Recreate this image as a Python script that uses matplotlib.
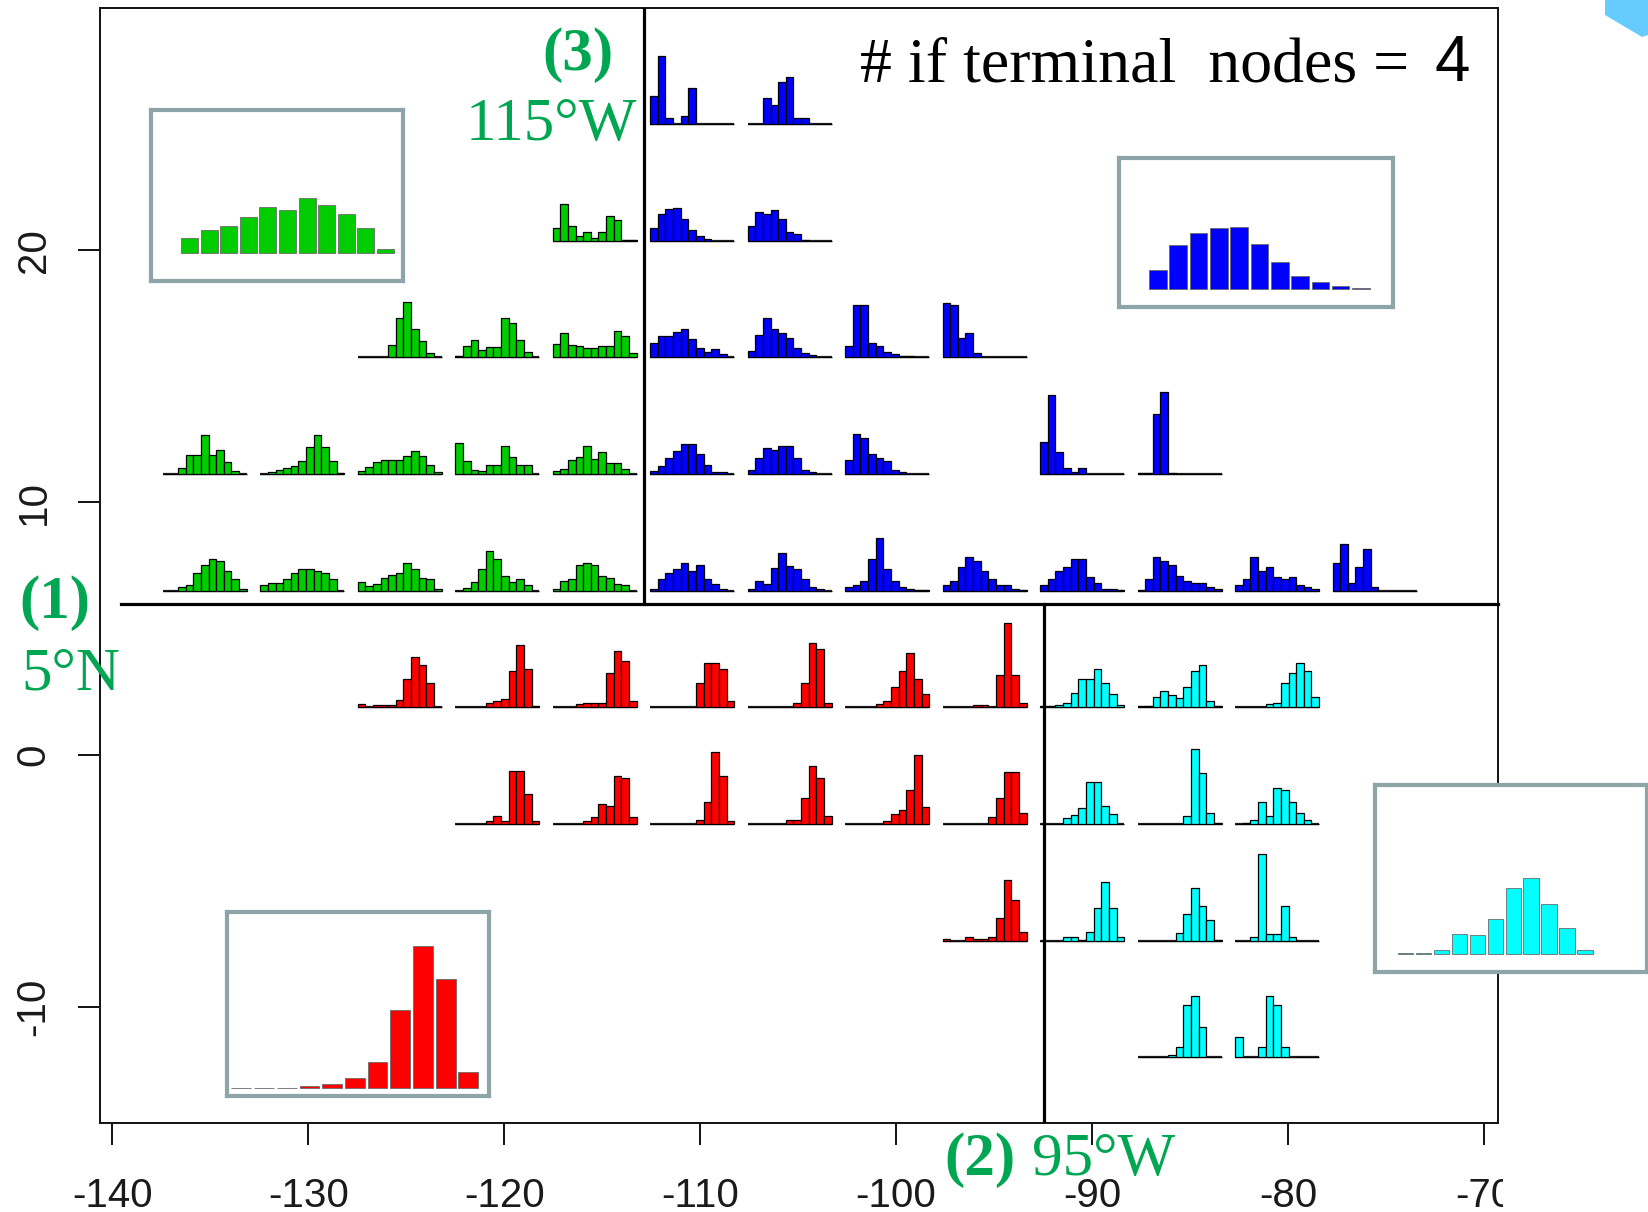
import matplotlib
matplotlib.use("Agg")
import matplotlib.pyplot as plt
from matplotlib.patches import Polygon, Rectangle

# ---------------- data ----------------
x_ticks = [-140, -130, -120, -110, -100, -90, -80, -70]
y_ticks = [-10, 0, 10, 20]

# grid of mini histograms: left edge longitude of each column, baseline latitude of each row
col_lons = [-137.43, -132.45, -127.48, -122.50, -117.53, -112.55, -107.58,
            -102.60, -97.63, -92.65, -87.68, -82.70, -77.73]
row_lats = [25.0, 20.375, 15.75, 11.125, 6.5, 1.875, -2.75, -7.375, -12.0]

# (row, col) of each mini histogram and its 11 bin heights
green_pos = [(1, 4), (2, 2), (2, 3), (2, 4),
             (3, 0), (3, 1), (3, 2), (3, 3), (3, 4),
             (4, 0), (4, 1), (4, 2), (4, 3), (4, 4)]
green_hist = [
    [13, 37, 15, 5, 9, 3, 9, 25, 21, 1, 1],
    [0, 0, 0, 0, 12, 39, 55, 28, 16, 4, 0],
    [1, 11, 17, 7, 10, 10, 39, 34, 17, 5, 0],
    [13, 24, 12, 11, 9, 9, 11, 11, 26, 21, 4],
    [0, 0, 6, 19, 19, 39, 19, 24, 12, 3, 0],
    [0, 2, 4, 6, 8, 13, 27, 39, 27, 13, 1],
    [3, 7, 12, 14, 14, 14, 18, 23, 18, 9, 2],
    [31, 13, 4, 3, 9, 9, 28, 17, 9, 9, 0],
    [3, 5, 14, 17, 28, 15, 22, 11, 11, 5, 0],
    [0, 0, 4, 6, 18, 26, 32, 30, 20, 12, 2],
    [6, 8, 8, 12, 18, 22, 22, 20, 18, 12, 0],
    [9, 5, 7, 13, 16, 18, 28, 22, 13, 12, 2],
    [0, 3, 9, 22, 40, 32, 15, 9, 12, 6, 0],
    [2, 10, 12, 26, 28, 26, 15, 13, 7, 6, 0],
]

blue_pos = [(0, 5), (0, 6), (1, 5), (1, 6),
            (2, 5), (2, 6), (2, 7), (2, 8),
            (3, 5), (3, 6), (3, 7), (3, 9), (3, 10),
            (4, 5), (4, 6), (4, 7), (4, 8), (4, 9), (4, 10), (4, 11), (4, 12)]
blue_hist = [
    [28, 68, 6, 0, 8, 36, 0, 0, 0, 0, 0],
    [0, 0, 26, 19, 42, 47, 6, 6, 0, 0, 0],
    [13, 27, 32, 33, 22, 11, 5, 2, 0, 0, 0],
    [15, 29, 27, 31, 22, 9, 7, 1, 0, 0, 0],
    [14, 21, 21, 25, 28, 18, 9, 5, 8, 3, 0],
    [6, 22, 39, 28, 24, 19, 9, 4, 2, 0, 0],
    [11, 52, 52, 14, 11, 5, 3, 1, 1, 0, 0],
    [54, 52, 19, 24, 4, 0, 0, 0, 0, 0, 0],
    [3, 8, 16, 23, 30, 30, 20, 9, 2, 2, 0],
    [4, 16, 26, 24, 28, 28, 16, 4, 2, 0, 0],
    [14, 40, 36, 20, 16, 13, 4, 2, 0, 0, 0],
    [32, 79, 22, 6, 2, 6, 0, 0, 0, 0, 0],
    [1, 1, 60, 82, 1, 0, 0, 0, 0, 0, 0],
    [2, 12, 18, 22, 28, 20, 26, 12, 7, 2, 0],
    [2, 10, 7, 23, 38, 25, 22, 12, 4, 2, 0],
    [4, 6, 10, 32, 53, 22, 10, 4, 2, 1, 1],
    [6, 10, 24, 34, 30, 20, 12, 6, 6, 2, 1],
    [6, 12, 20, 24, 32, 32, 14, 8, 2, 2, 1],
    [1, 12, 34, 30, 26, 15, 10, 8, 8, 4, 2],
    [6, 12, 34, 20, 24, 14, 12, 14, 6, 4, 2],
    [28, 47, 8, 24, 42, 4, 0, 0, 0, 0, 0],
]

red_pos = [(5, 2), (5, 3), (5, 4), (5, 5), (5, 6), (5, 7), (5, 8),
           (6, 3), (6, 4), (6, 5), (6, 6), (6, 7), (6, 8),
           (7, 8)]
red_hist = [
    [3, 0, 2, 2, 2, 7, 28, 50, 42, 24, 0],
    [0, 0, 0, 0, 4, 6, 8, 36, 62, 38, 1],
    [0, 0, 0, 3, 4, 4, 4, 34, 56, 46, 6],
    [0, 0, 0, 0, 0, 0, 24, 44, 44, 38, 6],
    [0, 0, 0, 0, 0, 0, 4, 24, 64, 58, 4],
    [0, 0, 0, 0, 3, 6, 20, 36, 54, 28, 13],
    [0, 0, 0, 0, 2, 2, 0, 32, 84, 32, 4],
    [0, 0, 0, 0, 3, 8, 3, 53, 53, 30, 3],
    [0, 0, 0, 0, 3, 7, 20, 18, 48, 46, 7],
    [0, 0, 0, 0, 0, 0, 4, 22, 72, 48, 3],
    [0, 0, 0, 0, 0, 4, 4, 26, 58, 46, 8],
    [0, 0, 0, 0, 0, 3, 10, 14, 34, 69, 17],
    [0, 0, 0, 0, 0, 0, 7, 26, 52, 52, 11],
    [2, 0, 0, 4, 2, 2, 4, 23, 61, 41, 9],
]

cyan_pos = [(5, 9), (5, 10), (5, 11),
            (6, 9), (6, 10), (6, 11),
            (7, 9), (7, 10), (7, 11),
            (8, 10), (8, 11)]
cyan_hist = [
    [1, 1, 2, 4, 14, 28, 28, 38, 24, 13, 2],
    [1, 1, 10, 16, 12, 9, 20, 36, 42, 6, 1],
    [0, 0, 0, 0, 3, 4, 24, 34, 44, 36, 10],
    [0, 0, 0, 6, 9, 16, 42, 42, 18, 10, 0],
    [0, 0, 0, 0, 0, 0, 8, 75, 51, 11, 1],
    [0, 1, 4, 22, 8, 36, 34, 22, 11, 4, 0],
    [0, 0, 0, 4, 4, 1, 9, 33, 59, 33, 4],
    [0, 0, 0, 0, 0, 8, 27, 53, 35, 21, 1],
    [0, 0, 4, 87, 7, 7, 35, 4, 0, 0, 0],
    [0, 0, 0, 0, 2, 10, 52, 61, 30, 0, 0],
    [20, 0, 0, 10, 61, 52, 10, 0, 0, 0, 0],
]

# pooled histograms shown in the inset boxes
green_inset = [15, 23, 27, 36, 46, 43, 55, 48, 39, 25, 4]
blue_inset = [19, 44, 56, 61, 62, 45, 27, 13, 7, 3, 1]
red_inset = [0, 0, 0, 2, 4, 10, 26, 78, 142, 109, 16]
cyan_inset = [1, 1, 4, 20, 19, 35, 66, 76, 50, 26, 4]

# split lines
split_lat = 5.96
split_lon_north = -112.86
split_lon_south = -92.47

# ---------------- figure ----------------
W, H = 1648, 1212
DPI = 100
fig = plt.figure(figsize=(W / DPI, H / DPI), dpi=DPI)
fig.patch.set_facecolor("white")

def fx(px):
    return px / W

def fy(py):
    return 1 - py / H

ax = fig.add_axes([fx(99.8), fy(1122.5), fx(1497.7) - fx(99.8), fy(8.4) - fy(1122.5)])
XMIN, XMAX = -140.64, -69.30
YMIN, YMAX = -14.58, 29.58
ax.set_xlim(XMIN, XMAX)
ax.set_ylim(YMIN, YMAX)

for s in ax.spines.values():
    s.set_linewidth(1.4)
    s.set_color("#111111")

ax.set_xticks(x_ticks)
ax.set_xticklabels([str(v) for v in x_ticks], fontsize=29,
                   family=["Liberation Sans", "DejaVu Sans"], color="#1a1a1a")
ax.set_yticks(y_ticks)
ax.set_yticklabels([str(v) for v in y_ticks], fontsize=29, rotation=90, va="center",
                   family=["Liberation Sans", "DejaVu Sans"], color="#1a1a1a")
ax.tick_params(axis="x", length=16, width=1.4, pad=23, color="#111111")
ax.tick_params(axis="y", length=16, width=1.4, pad=18, color="#111111")

PX_X = 1397.9 / (XMAX - XMIN)   # pixels per degree longitude
PX_Y = 1114.1 / (YMAX - YMIN)   # pixels per degree latitude
HIST_W = 84 / PX_X
BIN_W = HIST_W / 11


def mini(lon, lat, counts, color):
    xs = [lon + (i + 0.5) * BIN_W for i in range(len(counts))]
    hs = [c / PX_Y for c in counts]
    ax.plot([lon, lon + HIST_W], [lat, lat], color="#222222", lw=1.6,
            solid_capstyle="butt", zorder=2)
    ax.bar(xs, hs, width=BIN_W, bottom=lat, color=color, edgecolor="black",
           linewidth=0.9, zorder=3)


for pos, hist, col in [(green_pos, green_hist, "#00cd00"),
                       (blue_pos, blue_hist, "#0000ff"),
                       (red_pos, red_hist, "#ff0000"),
                       (cyan_pos, cyan_hist, "#00ffff")]:
    for (r, c), h in zip(pos, hist):
        mini(col_lons[c], row_lats[r], h, col)

# split lines
ax.plot([-139.57, XMAX], [split_lat, split_lat], color="black", lw=2.3, zorder=4, clip_on=False)
ax.plot([split_lon_north, split_lon_north], [split_lat, YMAX], color="black", lw=2.3, zorder=4)
ax.plot([split_lon_south, split_lon_south], [YMIN, split_lat], color="black", lw=2.3, zorder=4)

# crop edge of the original plot on the right
fig.patches.append(Rectangle((fx(1503), 0), 1 - fx(1503), 1, transform=fig.transFigure,
                             facecolor="white", edgecolor="none", zorder=1))


def inset(box, xlim, ylim, counts, color):
    l, t, r, b = box
    iax = fig.add_axes([fx(l), fy(b), fx(r) - fx(l), fy(t) - fy(b)], zorder=5)
    iax.set_facecolor("white")
    iax.set_xlim(*xlim)
    iax.set_ylim(*ylim)
    iax.bar(range(len(counts)), counts, width=0.87, color=color,
            edgecolor="#6a6a6a", linewidth=0.6)
    iax.set_xticks([])
    iax.set_yticks([])
    for s in iax.spines.values():
        s.set_color("#8ea5a7")
        s.set_linewidth(3)
    return iax


inset((151, 110, 403, 281), (-1.96, 10.89), (-28, 143), green_inset, "#00cc00")
inset((1119, 158, 1393, 307), (-1.92, 11.58), (-18, 131), blue_inset, "#0000ff")
inset((227, 912, 489, 1096), (-0.63, 10.91), (-8, 176), red_inset, "#ff0000")
inset((1375, 785, 1647, 972), (-1.70, 13.44), (-18, 169), cyan_inset, "#00ffff")

# decorative corner shape
fig.patches.append(Polygon([(fx(1605), fy(0)), (fx(1605), fy(15)), (fx(1642), fy(37)),
                            (fx(1648), fy(35)), (fx(1648), fy(0))],
                           closed=True, transform=fig.transFigure,
                           facecolor="#66ccff", edgecolor="none", zorder=6))

# annotations
GREEN = "#00a651"
SERIF = ["Liberation Serif", "DejaVu Serif"]
SANS = ["Liberation Sans", "DejaVu Sans"]
fig.text(fx(578), fy(70), "(3)", color=GREEN, fontsize=44, fontweight="bold",
         family=SERIF, ha="center", va="baseline", zorder=7)
fig.text(fx(637), fy(140), "115°W", color=GREEN, fontsize=44,
         family=SERIF, ha="right", va="baseline", zorder=7)
fig.text(fx(19), fy(618), "(1)", color=GREEN, fontsize=44, fontweight="bold",
         family=SERIF, ha="left", va="baseline", zorder=7)
fig.text(fx(21), fy(690), "5°N", color=GREEN, fontsize=44,
         family=SERIF, ha="left", va="baseline", zorder=7)
fig.text(fx(944), fy(1175), "(2)", color=GREEN, fontsize=44, fontweight="bold",
         family=SERIF, ha="left", va="baseline", zorder=7)
fig.text(fx(1032), fy(1175), "95°W", color=GREEN, fontsize=44,
         family=SERIF, ha="left", va="baseline", zorder=7)
fig.text(fx(860), fy(81), "# if terminal  nodes = ", color="black", fontsize=46,
         family=SERIF, ha="left", va="baseline", zorder=7)
fig.text(fx(1435), fy(81), "4", color="black", fontsize=46,
         family=SANS, ha="left", va="baseline", zorder=7)

fig.savefig("out.png", dpi=DPI, facecolor="white")
